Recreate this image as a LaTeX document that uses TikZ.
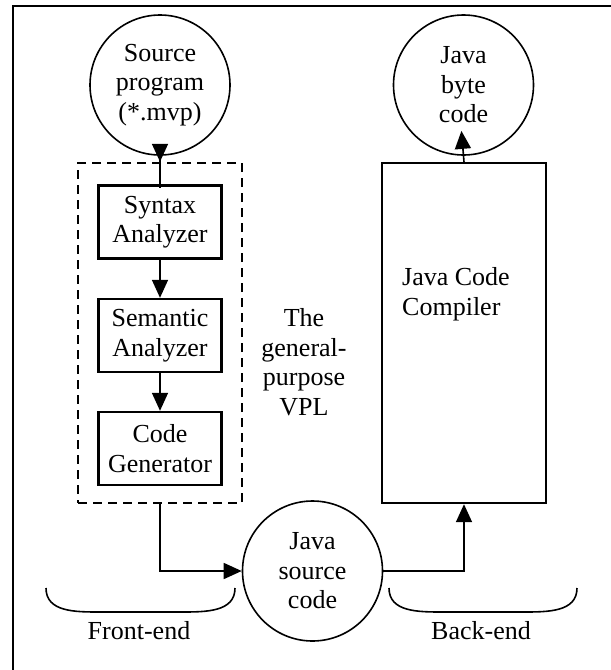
\documentclass[tikz,border=0pt]{standalone}
\usepackage{fontspec}
\setmainfont{Liberation Serif}
\usepackage{tikz}
\usetikzlibrary{arrows.meta, positioning, shapes}

\begin{document}
\begin{tikzpicture}[x=1pt, y=-1pt,
  txt/.style={font=\fontsize{26}{29.5}\selectfont, align=center, inner sep=0pt},
  blob/.style={txt, draw, circle, line width=1.6pt, minimum size=140pt},
  stage/.style={txt, draw, rectangle, line width=2.4pt, minimum width=123pt, minimum height=73pt},
  arr/.style={line width=1.6pt, -{Triangle[length=18pt, width=16pt]}}]
\useasboundingbox (0,0) rectangle (611,670);

% Frame
\draw[line width=2.6pt] (13,670) -- (13,6) -- (611,6);

% Front-end
\node[blob] (src) at (160,85) {Source\\program\\(*.mvp)};
\node[draw, line width=2.4pt, dash pattern=on 9pt off 6pt, minimum width=164pt, minimum height=340pt] (vpl) at (160,333) {};
\node[stage] (syn) at (160,222) {Syntax\\Analyzer};
\node[stage] (sem) at (160,335.5) {Semantic\\Analyzer};
\node[stage] (gen) at (160,448.5) {Code\\Generator};
\node[txt] (vpltxt) at (304,362) {The\\general-\\purpose\\VPL};

% Java source code
\node[blob] (jsc) at (312.5,571) {Java\\source\\code};

% Back-end
\node[draw, line width=2.4pt, minimum width=164pt, minimum height=340pt] (comp) at (464,333) {};
\node[txt, align=left, anchor=west] (comptxt) at (402,294) {Java Code\\Compiler};
\node[blob] (bc) at (463.5,85) {Java\\byte\\code};

% Arrows
\draw[arr, shorten <=-32pt] (src.south) -- (vpl.north);
\draw[arr] (syn) -- (sem);
\draw[arr] (sem) -- (gen);
\draw[arr] (vpl.south) |- (jsc.west);
\draw[arr] (jsc.east) -| (comp.south);
\draw[arr, shorten >=-25pt] (comp.north) -- (bc.south);

% Braces
\draw[line width=1.6pt] (46,588) .. controls (46,612) and (75,612) .. (100,612) -- (181,612) .. controls (206,612) and (235,612) .. (235,588);
\node[txt] (fe) at (139,631) {Front-end};
\draw[line width=1.6pt] (389,588) .. controls (389,612) and (418,612) .. (443,612) -- (523,612) .. controls (548,612) and (577,612) .. (577,588);
\node[txt] (be) at (481,631) {Back-end};
\end{tikzpicture}
\end{document}
